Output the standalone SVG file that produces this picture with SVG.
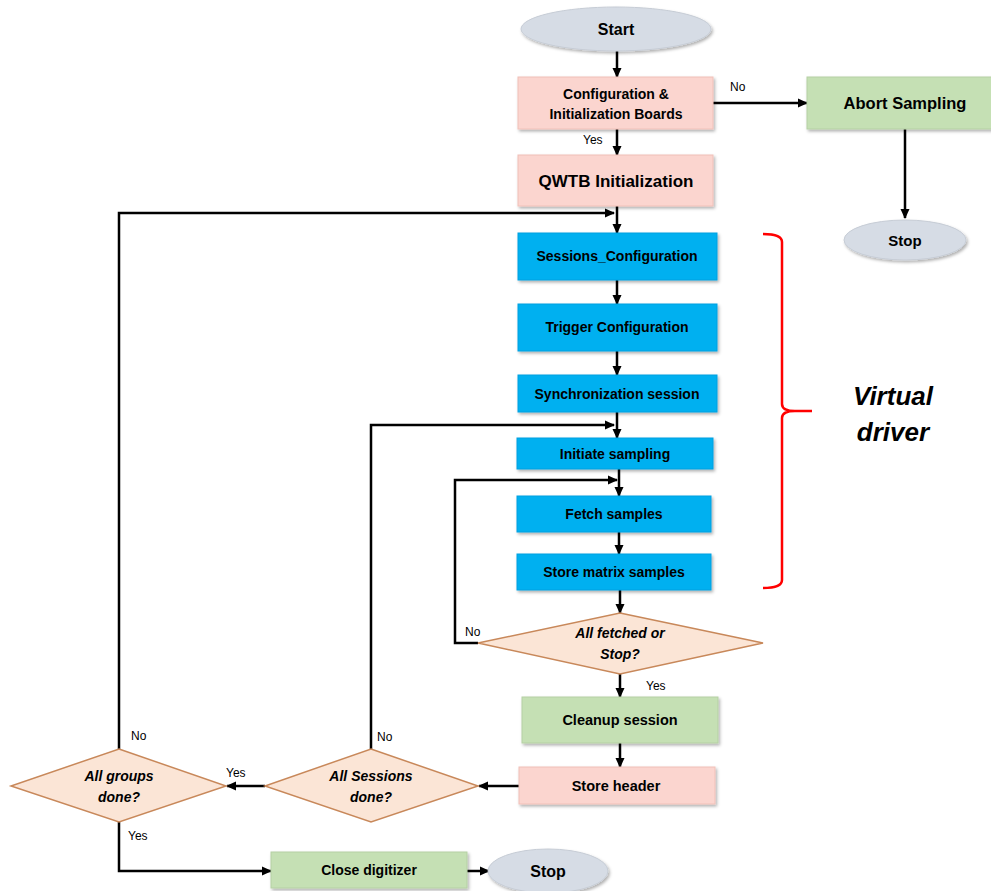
<svg xmlns="http://www.w3.org/2000/svg" width="991" height="891" viewBox="0 0 991 891">
<defs>
<marker id="arr" markerUnits="userSpaceOnUse" markerWidth="10" markerHeight="10" refX="9" refY="5" orient="auto">
<path d="M0,0.5 L10,5 L0,9.5 Z" fill="#000"/>
</marker>
<filter id="sh" x="-10%" y="-10%" width="125%" height="135%">
<feDropShadow dx="1.5" dy="2" stdDeviation="1.5" flood-color="#000" flood-opacity="0.3"/>
</filter>
<style>
.t{font-family:"Liberation Sans",Arial,sans-serif;font-weight:bold;fill:#000;text-anchor:middle}
.d{font-family:"Liberation Sans",Arial,sans-serif;font-weight:bold;font-style:italic;fill:#000;text-anchor:middle;font-size:14px}
.l{font-family:"Liberation Sans",Arial,sans-serif;fill:#000;font-size:12px}
.pink{fill:#fbd5cf;stroke:#f0c0b8;stroke-width:1;filter:url(#sh)}
.green{fill:#c5e0b4;stroke:#b5d0a4;stroke-width:1;filter:url(#sh)}
.blue{fill:#00b0f0;stroke:#00a0e0;stroke-width:1;filter:url(#sh)}
.oval{fill:#d6dce5;stroke:#c6ccd5;stroke-width:1;filter:url(#sh)}
.dia{fill:#fbe5d6;stroke:#c8885a;stroke-width:1.5}
.c{fill:none;stroke:#000;stroke-width:2.5}
.ca{fill:none;stroke:#000;stroke-width:2.5;marker-end:url(#arr)}
</style>
</defs>
<rect width="991" height="891" fill="#fff"/>

<g id="connectors">
<line class="ca" x1="617" y1="51" x2="617" y2="77"/>
<line class="ca" x1="713" y1="103" x2="807" y2="103"/>
<line class="ca" x1="617" y1="129" x2="617" y2="155"/>
<line class="ca" x1="905" y1="129" x2="905" y2="218"/>
<line class="ca" x1="617" y1="206" x2="617" y2="233"/>
<polyline class="ca" points="119,749 119,213 614,213"/>
<line class="ca" x1="617" y1="280" x2="617" y2="304"/>
<line class="ca" x1="617" y1="351" x2="617" y2="375"/>
<line class="ca" x1="617" y1="412" x2="617" y2="438"/>
<polyline class="ca" points="371,749 371,425 614,425"/>
<line class="ca" x1="619" y1="469" x2="619" y2="496"/>
<polyline class="ca" points="478,643 455,643 455,480 617,480"/>
<line class="ca" x1="619" y1="532" x2="619" y2="554"/>
<line class="ca" x1="620" y1="590" x2="620" y2="613"/>
<line class="ca" x1="620" y1="674" x2="620" y2="697"/>
<line class="ca" x1="620" y1="743" x2="620" y2="767"/>
<line class="ca" x1="519" y1="786" x2="479" y2="786"/>
<line class="ca" x1="265" y1="786" x2="227" y2="786"/>
<polyline class="ca" points="119,822 119,871 271,871"/>
<line class="ca" x1="467" y1="871" x2="489" y2="871"/>
</g>

<g id="labels">
<text class="l" x="730" y="91">No</text>
<text class="l" x="583" y="144">Yes</text>
<text class="l" x="465" y="636">No</text>
<text class="l" x="646" y="690">Yes</text>
<text class="l" x="377" y="741">No</text>
<text class="l" x="131" y="740">No</text>
<text class="l" x="226" y="777">Yes</text>
<text class="l" x="128" y="840">Yes</text>
</g>

<g id="start">
<ellipse class="oval" cx="616" cy="29" rx="95" ry="22"/>
<text class="t" x="616" y="35" font-size="16">Start</text>
</g>
<g id="config">
<rect class="pink" x="518" y="77" width="195" height="52"/>
<text class="t" x="616" y="99" font-size="14">Configuration &amp;</text>
<text class="t" x="616" y="119" font-size="14">Initialization Boards</text>
</g>
<g id="abort">
<rect class="green" x="807" y="77" width="190" height="52"/>
<text class="t" x="905" y="109" font-size="16.5">Abort Sampling</text>
</g>
<g id="stop1">
<ellipse class="oval" cx="905" cy="240" rx="61" ry="20"/>
<text class="t" x="905" y="246" font-size="15">Stop</text>
</g>
<g id="qwtb">
<rect class="pink" x="518" y="155" width="195" height="51"/>
<text class="t" x="616" y="187" font-size="17">QWTB Initialization</text>
</g>
<g id="sessions">
<rect class="blue" x="518" y="233" width="199" height="47"/>
<text class="t" x="617" y="261" font-size="14">Sessions_Configuration</text>
</g>
<g id="trigger">
<rect class="blue" x="518" y="304" width="199" height="47"/>
<text class="t" x="617" y="332" font-size="14">Trigger Configuration</text>
</g>
<g id="sync">
<rect class="blue" x="518" y="375" width="199" height="37"/>
<text class="t" x="617" y="399" font-size="14">Synchronization session</text>
</g>
<g id="initiate">
<rect class="blue" x="517" y="438" width="196" height="31"/>
<text class="t" x="615" y="459" font-size="14">Initiate sampling</text>
</g>
<g id="fetch">
<rect class="blue" x="517" y="496" width="194" height="36"/>
<text class="t" x="614" y="519" font-size="14">Fetch samples</text>
</g>
<g id="storematrix">
<rect class="blue" x="517" y="554" width="194" height="36"/>
<text class="t" x="614" y="577" font-size="14">Store matrix samples</text>
</g>
<g id="allfetched">
<polygon class="dia" points="620,613 763,643 620,674 478,643"/>
<text class="d" x="620" y="638">All fetched or</text>
<text class="d" x="620" y="659">Stop?</text>
</g>
<g id="cleanup">
<rect class="green" x="522" y="697" width="196" height="46"/>
<text class="t" x="620" y="725" font-size="14.5">Cleanup session</text>
</g>
<g id="storeheader">
<rect class="pink" x="519" y="767" width="196" height="37"/>
<text class="t" x="616" y="791" font-size="14.5">Store header</text>
</g>
<g id="allsessions">
<polygon class="dia" points="371,749 478,786 371,822 265,786"/>
<text class="d" x="371" y="781">All Sessions</text>
<text class="d" x="371" y="802">done?</text>
</g>
<g id="allgroups">
<polygon class="dia" points="119,749 226,786 119,822 11,786"/>
<text class="d" x="119" y="781">All groups</text>
<text class="d" x="119" y="802">done?</text>
</g>
<g id="close">
<rect class="green" x="271" y="852" width="196" height="36"/>
<text class="t" x="369" y="875" font-size="14">Close digitizer</text>
</g>
<g id="stop2">
<ellipse class="oval" cx="548" cy="871" rx="60" ry="22"/>
<text class="t" x="548" y="877" font-size="16">Stop</text>
</g>

<g id="brace">
<path d="M763,234 Q782,234 782,242 L782,404 Q782,411 795,411 L812,411 M795,411 Q782,411 782,418 L782,580 Q782,588 763,588" fill="none" stroke="#f00" stroke-width="2.5"/>
<text x="893" y="405" font-family="Liberation Sans,Arial,sans-serif" font-weight="bold" font-style="italic" font-size="26" text-anchor="middle">Virtual</text>
<text x="893" y="441" font-family="Liberation Sans,Arial,sans-serif" font-weight="bold" font-style="italic" font-size="26" text-anchor="middle">driver</text>
</g>
</svg>
